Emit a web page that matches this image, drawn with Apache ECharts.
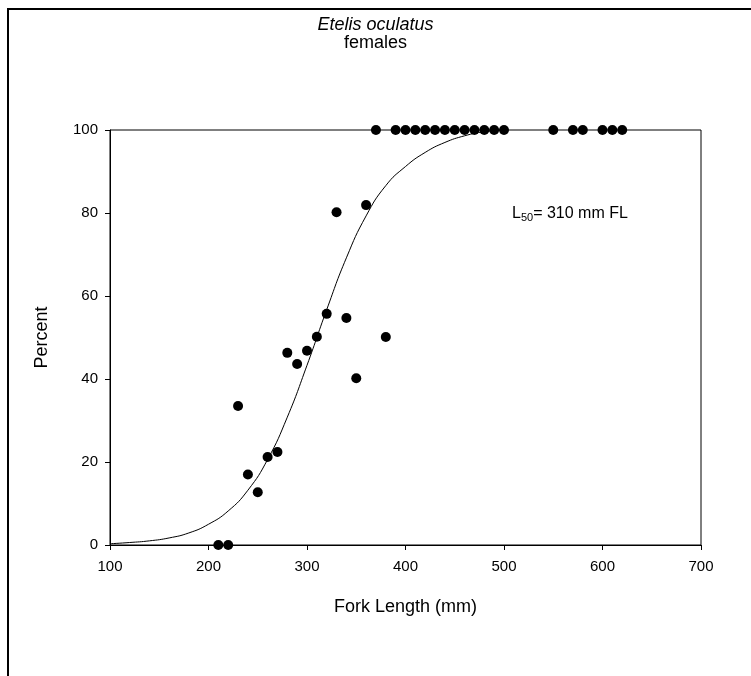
<!DOCTYPE html>
<html>
<head>
<meta charset="utf-8">
<script src="https://cdn.jsdelivr.net/npm/echarts@6/dist/echarts.min.js"></script>
<style>
html,body{margin:0;padding:0;background:#fff;}
#chart{width:751px;height:676px;}
</style>
</head>
<body>
<div id="chart"></div>
<script>
// Observed maturity data (fork length mm, percent mature)
var forkLengths = [210,220,230,240,250,260,270,280,290,300,310,320,330,340,350,360,370,380,
  390,400,410,420,430,440,450,460,470,480,490,500,550,570,580,600,610,620];
var percentMature = [0,0,33.5,17,12.7,21.2,22.4,46.3,43.6,46.8,50.2,55.7,80.2,54.7,40.2,81.9,100,50.1,
  100,100,100,100,100,100,100,100,100,100,100,100,100,100,100,100,100,100];
// Fitted curve, values
var curveX = [100,120,140,160,180,200,220,240,260,280,300,320,340,360,380,400,420,440,460,480,500];
var curveY = [0.3,0.6,1.0,1.7,2.9,5.0,8.2,13.2,20.6,30.8,43.3,56.7,69.2,79.3,86.6,91.2,94.6,97.0,98.6,99.6,100];
var xTicks = [100,200,300,400,500,600,700];
var yTicks = [0,20,40,60,80,100];

var scatterData = forkLengths.map(function(x,i){return [x, percentMature[i]];});
var curveData = curveX.map(function(x,i){return [x, curveY[i]];});

var chart = echarts.init(document.getElementById('chart'));
var font = 'Liberation Sans, Arial, sans-serif';
chart.setOption({
  animation:false,
  backgroundColor:'#fff',
  title:{
    text:'{i|Etelis oculatus}\n{n|females}',
    left:'center', top:10,
    textStyle:{
      fontWeight:'normal',
      rich:{
        i:{fontFamily:font,fontStyle:'italic',fontWeight:'normal',fontSize:18,color:'#000',lineHeight:19},
        n:{fontFamily:font,fontWeight:'normal',fontSize:18,color:'#000',lineHeight:19}
      }
    }
  },
  grid:{left:110, right:50, top:130, bottom:131, show:true, borderColor:'#000', borderWidth:1},
  xAxis:{
    type:'value', min:100, max:700, interval:100,
    name:'Fork Length (mm)', nameLocation:'middle', nameGap:53,
    nameTextStyle:{fontFamily:font,fontSize:18,color:'#000'},
    axisLine:{show:true,onZero:false,lineStyle:{color:'#000',width:1}},
    axisTick:{show:true,inside:false,length:5,lineStyle:{color:'#000'}},
    axisLabel:{fontFamily:font,fontSize:15,color:'#000',margin:14,
      customValues:xTicks},
    splitLine:{show:false}
  },
  yAxis:{
    type:'value', min:0, max:100, interval:20,
    name:'Percent', nameLocation:'middle', nameGap:59, nameRotate:90,
    nameTextStyle:{fontFamily:font,fontSize:18,color:'#000'},
    axisLine:{show:true,onZero:false,lineStyle:{color:'#000',width:1}},
    axisTick:{show:true,inside:false,length:5,lineStyle:{color:'#000'}},
    axisLabel:{fontFamily:font,fontSize:15,color:'#000',margin:12,
      customValues:yTicks},
    splitLine:{show:false}
  },
  series:[
    {
      type:'line', data:curveData, smooth:true, showSymbol:false, symbol:'none',
      lineStyle:{color:'#000',width:1}, z:2, silent:true
    },
    {
      type:'scatter', data:scatterData, symbol:'circle', symbolSize:10,
      itemStyle:{color:'#000',opacity:1}, z:3
    }
  ],
  graphic:[
    {type:'rect', shape:{x:8,y:9,width:760,height:700}, style:{fill:'none',stroke:'#000',lineWidth:2}, silent:true},
    {type:'text', left:512, top:204, style:{
      text:'{a|L}{b|50}{a|= 310 mm FL}',
      rich:{
        a:{fontFamily:font,fontSize:16,fill:'#000',lineHeight:18},
        b:{fontFamily:font,fontSize:11,fill:'#000',lineHeight:18,padding:[8,0,0,0]}
      }
    }}
  ]
});
</script>
</body>
</html>
